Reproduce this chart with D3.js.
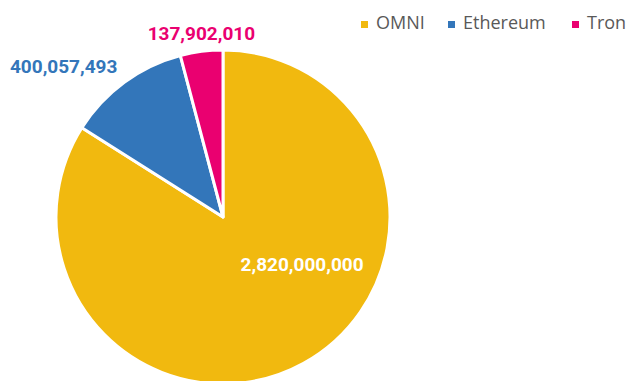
<!DOCTYPE html>
<meta charset="utf-8">
<style>
body { margin: 0; background: #fff; }
svg { font-family: Roboto, "Noto Sans", Arial, sans-serif; }
.legend text { fill: #595959; font-size: 18px; font-family: "Open Sans", "Noto Sans", sans-serif; }
.label { font-weight: bold; font-size: 19px; }
</style>
<body>
<div id="chart"></div>
<script src="https://d3js.org/d3.v7.min.js"></script>
<script>

var chains = ['OMNI', 'Ethereum', 'Tron'];
var supply = [2820000000, 400057493, 137902010];
var colors = ['#F1B90F', '#3376BA', '#EA0070'];
var labelColors = ['#ffffff', '#3376BA', '#EA0070'];

var width = 629, height = 381;
var cx = 223, cy = 217, radius = 167;

var svg = d3.select('#chart').append('svg')
  .attr('width', width)
  .attr('height', height);

var pie = d3.pie().sort(null).value(function (d) { return d; });
var arcs = pie(supply);
var arc = d3.arc().innerRadius(0).outerRadius(radius);

var g = svg.append('g').attr('transform', 'translate(' + [cx, cy] + ')');

g.selectAll('path')
  .data(arcs)
  .enter().append('path')
    .attr('d', arc)
    .attr('fill', function (d, i) { return colors[i]; })
    .attr('stroke', '#fff')
    .attr('stroke-width', 3)
    .attr('stroke-linejoin', 'round');

// inside label for the big slice, outside labels for the small ones
var labelArc = [
  d3.arc().innerRadius(radius * 0.56).outerRadius(radius * 0.56),
  d3.arc().innerRadius(radius * 1.28).outerRadius(radius * 1.28),
  d3.arc().innerRadius(radius * 1.1).outerRadius(radius * 1.1)
];
var nudge = [[34, -35], [-33, 22], [2, -1]];

g.selectAll('.label')
  .data(arcs)
  .enter().append('text')
    .attr('class', 'label')
    .attr('text-anchor', 'middle')
    .attr('fill', function (d, i) { return labelColors[i]; })
    .attr('transform', function (d, i) {
      var c = labelArc[i].centroid(d);
      return 'translate(' + [c[0] + nudge[i][0], c[1] + nudge[i][1]] + ')';
    })
    .attr('dy', '0.35em')
    .text(function (d) { return d3.format(',')(d.value); });

// legend
var legend = svg.append('g').attr('class', 'legend')
  .attr('transform', 'translate(361,29)');
var legendX = [0, 87, 211];
var item = legend.selectAll('g')
  .data(chains)
  .enter().append('g')
    .attr('transform', function (d, i) { return 'translate(' + legendX[i] + ',0)'; });
item.append('rect')
  .attr('y', -8)
  .attr('width', 7)
  .attr('height', 7)
  .attr('fill', function (d, i) { return colors[i]; });
item.append('text')
  .attr('x', 15)
  .text(function (d) { return d; });

</script>
